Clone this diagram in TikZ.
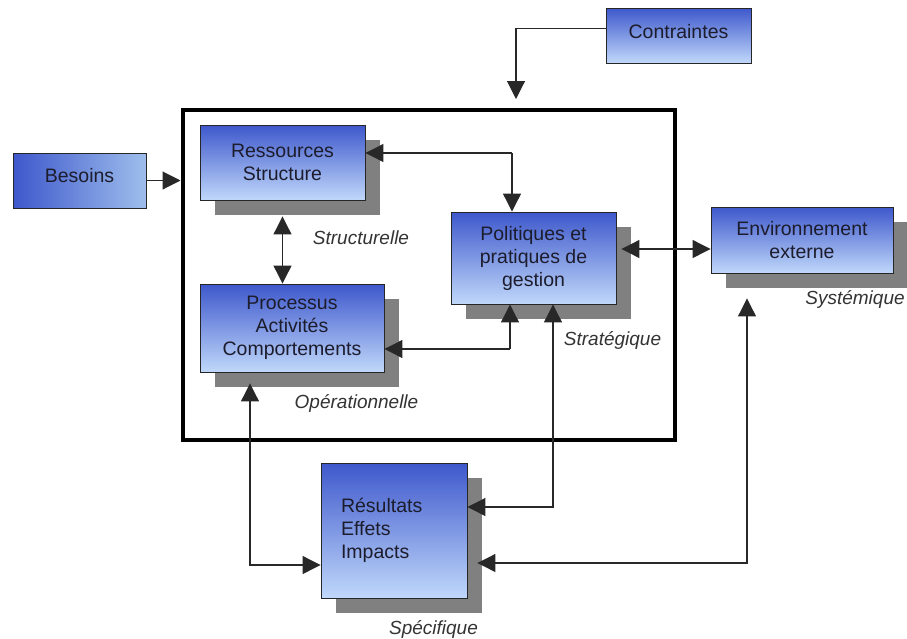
\documentclass[tikz,border=0pt]{standalone}
\usepackage{fontspec}
\setmainfont{Liberation Sans}
\usetikzlibrary{arrows.meta,shadows,calc}
\definecolor{btop}{RGB}{62,88,204}
\definecolor{bbot}{RGB}{192,216,250}
\definecolor{bright}{RGB}{158,190,236}
\definecolor{txt}{RGB}{28,28,44}
\definecolor{shd}{RGB}{128,128,128}
\definecolor{ln}{RGB}{40,40,40}
\tikzset{
  boxbase/.style={draw=black!85, line width=0.9pt, rectangle, inner sep=2pt,
    font=\fontsize{19.5}{23}\selectfont, text=txt, align=center},
  vbox/.style={boxbase, top color=btop, bottom color=bbot},
  sbox/.style={vbox, drop shadow={shadow xshift=15pt, shadow yshift=-15pt, fill=shd, opacity=1}},
  hbox/.style={boxbase, left color=btop, right color=bright},
  lab/.style={font=\fontsize{19}{22}\selectfont\itshape, text=black!80, inner sep=0pt},
  arr/.style={draw=ln, line width=1.1pt, -{Triangle[length=18pt,width=18pt]}},
  dbl/.style={draw=ln, line width=1.1pt, {Triangle[length=18pt,width=18pt]}-{Triangle[length=18pt,width=18pt]}}
}
\begin{document}
\begin{tikzpicture}[x=1pt,y=-1pt]
\useasboundingbox[fill=white] (0,0) rectangle (907,638);
% main frame
\node[draw=black, line width=4pt, minimum width=492pt, minimum height=330pt, inner sep=0pt] (main) at (428.5,275) {};
% boxes
\node[vbox, minimum width=145pt, minimum height=55pt] (contr) at (678.5,35.5) {\raisebox{4pt}[\height][\depth]{Contraintes}};
\node[hbox, minimum width=133pt, minimum height=55pt] (bes) at (79.5,180.5) {\raisebox{5pt}[\height][\depth]{Besoins}};
\node[sbox, minimum width=165pt, minimum height=75pt] (res) at (282.5,162.5) {Ressources\\Structure};
\node[sbox, minimum width=165pt, minimum height=92pt] (pol) at (533.5,258) {Politiques et\\pratiques de\\gestion};
\node[sbox, minimum width=184pt, minimum height=88pt] (proc) at (292,328) {Processus\\Activités\\Comportements};
\node[sbox, minimum width=182pt, minimum height=66pt] (env) at (802,240) {Environnement\\externe};
\node[sbox, minimum height=135pt, text width=106pt, inner xsep=20pt, align=left] (resu) at (394,530.5) {Résultats\\Effets\\Impacts};
% labels
\node[lab] (l1) at (361,238) {Structurelle};
\node[lab] (l2) at (356.5,403) {Opérationnelle};
\node[lab] (l3) at (612.5,340) {Stratégique};
\node[lab] (l4) at (855,299) {Systémique};
\node[lab] (l5) at (433.5,629) {Spécifique};
% junction coordinates
\coordinate (ct) at (516,99);
\coordinate (j1) at (512,153);
\coordinate (j2) at (510,349);
\coordinate (j3) at (553,507);
\coordinate (j4) at (747,563);
\coordinate (j5) at (250,565);
\coordinate (j6) at (0,249);
% connectors
\draw[arr] ([yshift=7pt]contr.west) -| (ct);
\draw[arr] (bes.east) -- (main.west |- bes.east);
\draw[arr] (j1) -- (res.east |- j1);
\draw[arr] (j1) -- (j1 |- pol.north);
\draw[dbl] ([yshift=-16pt]res.south) -- (res.south |- proc.north);
\draw[arr] (j2) -- (proc.east |- j2);
\draw[arr] (j2) -- (j2 |- pol.south);
\draw[dbl] (j3 |- pol.south) |- (resu.east |- j3);
\draw[dbl] ([xshift=5pt]pol.east |- j6) -- (env.west |- j6);
\draw[dbl] ([yshift=-25pt]env.south -| j4) |- ([xshift=10pt]resu.east |- j4);
\draw[dbl] ([yshift=-11pt]proc.south -| j5) |- (resu.west |- j5);
\end{tikzpicture}
\end{document}
